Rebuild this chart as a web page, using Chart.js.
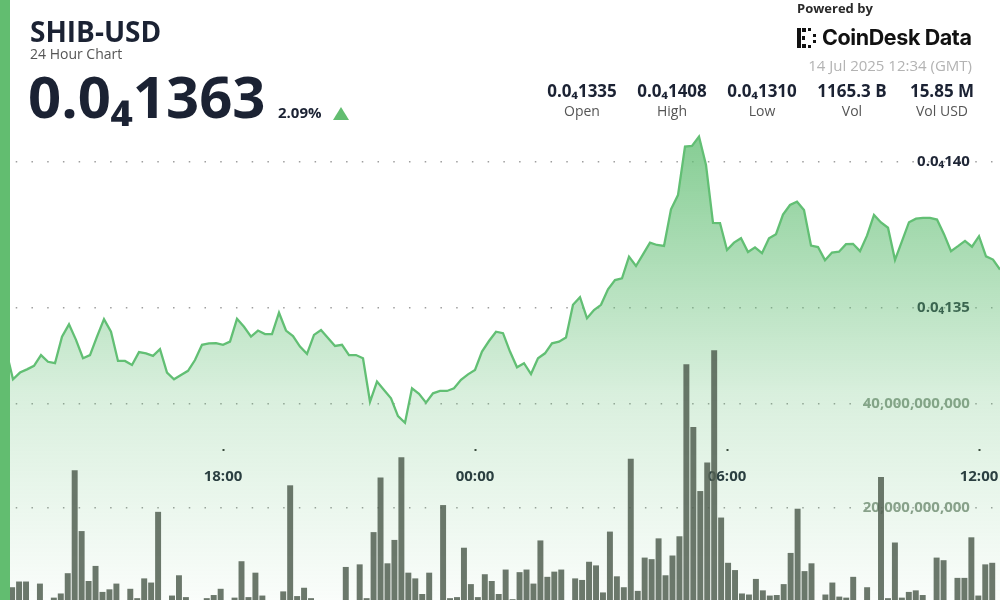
<!DOCTYPE html>
<html>
<head>
<meta charset="utf-8">
<script src="https://cdn.jsdelivr.net/npm/chart.js@4.4.1/dist/chart.umd.min.js"></script>
<style>
  html, body { margin: 0; padding: 0; width: 1000px; height: 600px; overflow: hidden; background: #fff; }
  body { font-family: 'Open Sans', 'Noto Sans', sans-serif; color: #1b2233; }
  #wrap { position: relative; width: 1000px; height: 600px; overflow: hidden; }
  #chart { position: absolute; left: 0; top: 0; }
  .side { position: absolute; left: 0; top: 0; width: 10px; height: 600px; background: #62bd70; z-index: 3; }
  .t { position: absolute; line-height: 1; white-space: nowrap; z-index: 2; }
  .title { left: 30px; top: 17px; font-size: 28px; font-weight: 700; }
  .sub { left: 30px; top: 47px; font-size: 14px; color: #555; }
  .big { left: 28px; top: 67px; font-size: 58px; font-weight: 700; }
  .chg { left: 278px; top: 105px; font-size: 15px; font-weight: 700; }
  .tri { position: absolute; left: 333px; top: 107px; width: 0; height: 0; z-index: 2;
         border-left: 8.5px solid transparent; border-right: 8.5px solid transparent; border-bottom: 13px solid #62bd70; }
  .pow { left: 797px; top: 2px; font-size: 13px; font-weight: 700; color: #2a2a2a; }
  .logo { position: absolute; left: 797px; top: 28px; z-index: 2; }
  .brand { left: 822px; top: 27px; font-family: Inter, 'Open Sans', sans-serif; font-size: 21.5px; font-weight: 700; letter-spacing: -0.4px; color: #111; }
  .date { right: 28px; top: 58px; font-size: 15px; color: #b3b3b3; }
  .stats { position: absolute; left: 537px; top: 82px; display: flex; z-index: 2; }
  .stats div { width: 90px; text-align: center; }
  .stats b { display: block; font-size: 17px; line-height: 1; font-weight: 700; }
  .stats span { display: block; font-size: 14px; line-height: 1; color: #555; margin-top: 5px; }
</style>
</head>
<body>
<div id="wrap">
  <canvas id="chart" width="1000" height="612"></canvas>
  <div class="side"></div>

  <div class="t title">SHIB-USD</div>
  <div class="t sub">24 Hour Chart</div>
  <div class="t big">0.0₄1363</div>
  <div class="t chg">2.09%</div>
  <div class="tri"></div>

  <div class="t pow">Powered by</div>
  <svg class="logo" width="22" height="20" viewBox="0 0 22 20">
    <rect x="0" y="0" width="4" height="20" fill="#111"/>
    <rect x="5" y="0" width="4" height="4" fill="#111"/>
    <rect x="5" y="16" width="4" height="4" fill="#111"/>
    <rect x="11" y="0" width="3" height="3" fill="#111"/>
    <rect x="11" y="17" width="3" height="3" fill="#111"/>
    <rect x="5" y="8" width="3" height="4" fill="#111"/>
    <rect x="16" y="6" width="3" height="3" fill="#111"/>
    <rect x="16" y="12" width="3" height="3" fill="#111"/>
  </svg>
  <div class="t brand">CoinDesk Data</div>
  <div class="t date">14 Jul 2025 12:34 (GMT)</div>

  <div class="stats">
    <div><b>0.0₄1335</b><span>Open</span></div>
    <div><b>0.0₄1408</b><span>High</span></div>
    <div><b>0.0₄1310</b><span>Low</span></div>
    <div><b>1165.3 B</b><span>Vol</span></div>
    <div><b>15.85 M</b><span>Vol USD</span></div>
  </div>
</div>

<script>
// 10분 간격, 13일 12:50 ~ 14일 12:30
const times = [];
for (let i = 0; i < 143; i++) {
  const m = (12 * 60 + 50 + i * 10) % 1440;
  times.push(String(Math.floor(m / 60)).padStart(2, '0') + ':' + String(m % 60).padStart(2, '0'));
}

// 가격 (1e-7 USD 단위, 136.3 => 0.0₄1363)
const price = [
  133.54,
  132.54, 132.77, 132.88, 133.00, 133.37, 133.14, 133.09, 134.00, 134.42, 133.89,
  133.26, 133.37, 134.00, 134.60, 134.17, 133.17, 133.17, 133.03, 133.47, 133.43,
  133.34, 133.57, 132.77, 132.54, 132.69, 132.83, 133.20, 133.72, 133.77, 133.78,
  133.72, 133.83, 134.61, 134.34, 134.00, 134.21, 134.09, 134.09, 134.82, 134.21,
  134.02, 133.66, 133.41, 134.06, 134.23, 133.95, 133.68, 133.72, 133.37, 133.37,
  133.26, 131.77, 132.46, 132.17, 131.89, 131.28, 131.05, 132.23, 132.04, 131.74,
  132.06, 132.14, 132.14, 132.23, 132.52, 132.71, 132.86, 133.49, 133.85, 134.17,
  134.12, 133.49, 132.95, 133.09, 132.72, 133.26, 133.43, 133.77, 133.83, 133.97,
  135.09, 135.35, 134.63, 134.91, 135.09, 135.62, 135.94, 136.00, 136.74, 136.42,
  136.82, 137.22, 137.14, 137.11, 138.36, 138.85, 140.51, 140.53, 140.85, 139.88,
  137.90, 137.89, 136.97, 137.22, 137.37, 136.90, 137.06, 136.86, 137.37, 137.51,
  138.18, 138.51, 138.62, 138.34, 137.12, 137.07, 136.62, 136.88, 136.91, 137.17,
  137.18, 136.93, 137.46, 138.17, 137.91, 137.73, 136.63, 137.27, 137.92, 138.04,
  138.07, 138.07, 138.01, 137.51, 136.93, 137.10, 137.28, 137.08, 137.44, 136.75,
  136.64, 136.30
];

// 거래량 (단위: 10억)
const volume = [
  4.7, 5.8, 5.8, 0.8, 5.4, 1.0, 2.7, 3.5, 7.4, 27.2,
  15.5, 5.9, 8.8, 3.8, 4.3, 5.4, 1.2, 4.4, 2.6, 6.4,
  5.6, 19.2, 1.5, 3.1, 7.0, 2.8, 1.0, 1.3, 2.6, 3.2,
  4.4, 1.4, 2.7, 9.7, 2.8, 7.5, 3.1, 1.2, 0.9, 3.9,
  24.3, 3.0, 4.6, 2.6, 1.0, 1.5, 1.1, 0.8, 8.6, 1.8,
  9.1, 2.6, 15.3, 25.8, 9.3, 13.8, 29.7, 7.5, 6.4, 3.4,
  7.5, 1.6, 20.5, 2.6, 2.8, 12.3, 5.3, 2.8, 7.2, 5.9,
  3.4, 8.1, 2.4, 7.6, 8.1, 5.4, 13.7, 6.7, 7.7, 8.1,
  1.5, 6.4, 6.1, 9.6, 8.9, 3.7, 15.4, 6.8, 4.7, 29.4,
  4.0, 10.4, 10.1, 14.1, 7.0, 10.8, 14.5, 47.6, 35.5, 23.2,
  28.7, 50.3, 18.1, 9.4, 8.0, 3.5, 3.3, 6.3, 4.1, 3.1,
  3.2, 5.3, 11.3, 19.8, 7.8, 9.3, 1.5, 3.3, 5.6, 2.9,
  2.7, 6.7, 1.2, 4.7, 1.0, 25.9, 2.6, 13.3, 2.7, 3.8,
  4.1, 3.2, 1.5, 10.4, 9.9, 1.2, 6.5, 6.5, 14.3, 3.1,
  9.1, 9.4, 1.0
];

const timeTicks = ['18:00', '00:00', '06:00', '12:00'];
const priceTicks = [135, 140];
const volTicks = [20, 40];

const FONT = "'Open Sans', 'Noto Sans', sans-serif";

const ctx = document.getElementById('chart').getContext('2d');

// 영역 그라데이션
const fillGrad = ctx.createLinearGradient(0, 130, 0, 612);
fillGrad.addColorStop(0, 'rgba(97,190,115,0.78)');
fillGrad.addColorStop(0.55, 'rgba(97,190,115,0.24)');
fillGrad.addColorStop(1, 'rgba(97,190,115,0.02)');

// 점선 그리드 공통
const dotGrid = { color: 'rgba(125,125,125,0.75)', lineWidth: 1.5, drawTicks: false };
const dotBorder = { display: false, dash: [1.5, 14.23], dashOffset: 6 };

// 축이 차트 영역을 줄이지 않게
const noPad = (scale) => {
  scale.paddingLeft = 0;
  scale.paddingRight = 0;
  scale.paddingTop = 0;
  scale.paddingBottom = 0;
};

new Chart(ctx, {
  data: {
    labels: times,
    datasets: [
      {
        type: 'line',
        data: price,
        xAxisID: 'x',
        yAxisID: 'y',
        borderColor: '#62bf74',
        borderWidth: 2.3,
        pointRadius: 0,
        tension: 0,
        fill: 'start',
        backgroundColor: fillGrad,
        order: 2
      },
      {
        type: 'bar',
        data: volume,
        xAxisID: 'xb',
        yAxisID: 'yv',
        backgroundColor: 'rgba(82,96,82,0.85)',
        borderWidth: 0,
        barThickness: 5.3,
        order: 1
      }
    ]
  },
  options: {
    responsive: false,
    animation: false,
    events: [],
    layout: { padding: { left: 6, right: 0, top: 0, bottom: 0 } },
    plugins: { legend: { display: false }, tooltip: { enabled: false } },
    scales: {
      x: {
        type: 'category',
        axis: 'x',
        offset: false,
        position: { yv: 31.4 },
        z: 1,
        border: { display: false },
        grid: { drawOnChartArea: false, drawTicks: true, tickLength: 2, tickWidth: 2, tickColor: '#333' },
        ticks: { autoSkip: false, maxRotation: 0, padding: 17, color: '#1f2636', font: { family: FONT, size: 15, weight: 'bold' } },
        afterBuildTicks: (scale) => {
          scale.ticks = timeTicks.map(t => ({ value: times.indexOf(t) }));
        },
        afterFit: noPad
      },
      xb: {
        type: 'category',
        axis: 'x',
        offset: true,
        display: false,
        labels: times,
        afterFit: noPad
      },
      y: {
        type: 'linear',
        axis: 'y',
        min: 124.57,
        max: 145.53,
        position: { x: 137.7 },
        z: 1,
        grid: dotGrid,
        border: dotBorder,
        ticks: {
          padding: 0,
          color: '#1f2636',
          font: { family: FONT, size: 15, weight: 'bold' },
          callback: (v) => '0.0₄' + v
        },
        afterBuildTicks: (scale) => {
          scale.ticks = priceTicks.map(v => ({ value: v }));
        },
        afterFit: noPad
      },
      yv: {
        type: 'linear',
        axis: 'y',
        min: 0,
        max: 117.7,
        position: { x: 137.7 },
        grid: dotGrid,
        border: dotBorder,
        ticks: {
          padding: 0,
          color: '#8d9d8d',
          font: { family: FONT, size: 15, weight: 'bold' },
          callback: (v) => (v * 1e9).toLocaleString('en-US')
        },
        afterBuildTicks: (scale) => {
          scale.ticks = volTicks.map(v => ({ value: v }));
        },
        afterFit: noPad
      }
    }
  }
});
</script>
</body>
</html>
